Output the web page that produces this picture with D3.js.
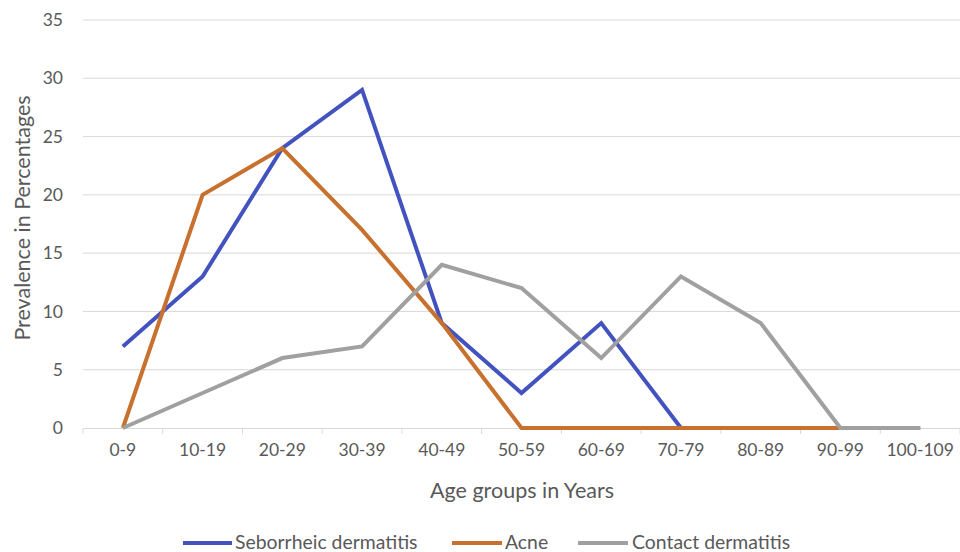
<!DOCTYPE html>
<html><head><meta charset="utf-8">
<script src="https://cdn.jsdelivr.net/npm/d3@7"></script>
<style>body{margin:0;background:#fff}svg{display:block}</style>
</head><body>
<svg id="chart" width="960" height="552"></svg>
<script>
const categories = ["0-9","10-19","20-29","30-39","40-49","50-59","60-69","70-79","80-89","90-99","100-109"];
const seborrheic = [7,13,24,29,9,3,9,0,0,0,0];
const acne = [0,20,24,17,9,0,0,0,0,0,0];
const contact = [0,3,6,7,14,12,6,13,9,0,0];
const seriesNames = ["Seborrheic dermatitis","Acne","Contact dermatitis"];
const seriesColors = ["#4253BF","#C8702D","#A0A0A0"];
const yTicks = [0,5,10,15,20,25,30,35];

(function(){
const series = [seborrheic, acne, contact].map((v,i)=>({name:seriesNames[i], color:seriesColors[i], values:v}));
const svg = d3.select("#chart");
const font = "Lato, 'Open Sans', sans-serif";
const mLeft = 83, mRight = 960, mTop = 20, mBottom = 428;

const x = d3.scaleBand().domain(categories).range([mLeft,mRight]);
const y = d3.scaleLinear().domain([0,35]).range([mBottom,mTop]);

svg.append("g").selectAll("line").data(yTicks.filter(d=>d>0)).join("line")
  .attr("x1",mLeft).attr("x2",mRight).attr("y1",d=>y(d)).attr("y2",d=>y(d))
  .attr("stroke","#D9D9D9").attr("stroke-width",1);

const ya = svg.append("g").attr("transform",`translate(${mLeft},0)`)
  .call(d3.axisLeft(y).tickValues(yTicks).tickSize(0).tickPadding(20));
ya.select(".domain").remove();
ya.selectAll("text").attr("font-family",font).attr("font-size",17.5).attr("fill","#595959");

const xa = svg.append("g").attr("transform",`translate(0,${mBottom})`)
  .call(d3.axisBottom(x).tickSize(0).tickPadding(16));
xa.select(".domain").attr("stroke","#D9D9D9");
xa.selectAll("text").attr("font-family",font).attr("font-size",17.5).attr("fill","#595959");
svg.append("g").selectAll("line").data(d3.range(categories.length+1)).join("line")
  .attr("x1",i=>mLeft+i*x.step()).attr("x2",i=>mLeft+i*x.step())
  .attr("y1",mBottom).attr("y2",mBottom+6).attr("stroke","#D9D9D9");

const line = d3.line().x((d,i)=>x(categories[i])+x.bandwidth()/2).y(d=>y(d));
svg.append("g").selectAll("path").data(series).join("path")
  .attr("d",d=>line(d.values)).attr("fill","none")
  .attr("stroke",d=>d.color).attr("stroke-width",4)
  .attr("stroke-linejoin","miter").attr("stroke-linecap","butt");

svg.append("text").attr("x",522).attr("y",498).attr("text-anchor","middle")
  .attr("font-family",font).attr("font-size",21.5).attr("fill","#595959").text("Age groups in Years");
svg.append("text").attr("transform",`translate(30,218) rotate(-90)`)
  .attr("text-anchor","middle").attr("font-family",font).attr("font-size",21.5)
  .attr("fill","#595959").text("Prevalence in Percentages");

const legLine = [[183,232],[452,502],[578,628]];
const legText = [235,505,632];
const lg = svg.append("g").selectAll("g").data(series).join("g");
lg.append("line").attr("x1",(d,i)=>legLine[i][0]).attr("x2",(d,i)=>legLine[i][1])
  .attr("y1",543).attr("y2",543)
  .attr("stroke",d=>d.color).attr("stroke-width",4);
lg.append("text").attr("x",(d,i)=>legText[i]).attr("y",549).attr("font-family",font).attr("font-size",19.4)
  .attr("fill","#595959").text(d=>d.name);
})();
</script>
</body></html>
